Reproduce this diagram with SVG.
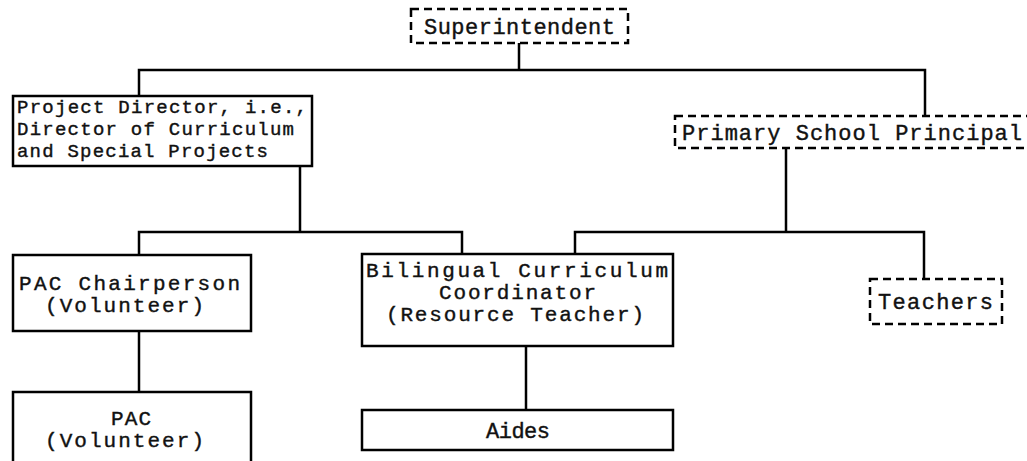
<svg xmlns="http://www.w3.org/2000/svg" width="1027" height="461" viewBox="0 0 1027 461">
  <style>
    .box { fill: #fff; stroke: #000; stroke-width: 2.5; }
    .dash { fill: #fff; stroke: #000; stroke-width: 2.5; stroke-dasharray: 8 5; }
    .wire { fill: none; stroke: #000; stroke-width: 2.5; stroke-linecap: square; }
    text { font-family: "Liberation Mono", "DejaVu Sans Mono", monospace; font-size: 22px; fill: #111; stroke: #111; stroke-width: 0.4; }
    .tight { font-size: 19px; }
    .multi { font-size: 21px; }
  </style>
  <rect width="1027" height="461" fill="#fff"/>

  <g id="connectors">
    <path class="wire" d="M519,43 V70 M139,70 H925 M139,70 V96 M925,70 V116"/>
    <path class="wire" d="M300,166 V232 M139,232 H462 M139,232 V255 M462,232 V254"/>
    <path class="wire" d="M139,331 V392"/>
    <path class="wire" d="M786,148 V232 M575,232 H924 M575,232 V254 M924,232 V279"/>
    <path class="wire" d="M526,346 V410"/>
  </g>

  <g id="superintendent">
    <rect class="dash" x="411" y="9" width="217" height="34"/>
    <text x="424" y="34" textLength="191" lengthAdjust="spacing">Superintendent</text>
  </g>

  <g id="project-director">
    <rect class="box" x="13" y="96" width="299" height="70"/>
    <text class="tight" x="17" y="113" textLength="290" lengthAdjust="spacing">Project Director, i.e.,</text>
    <text class="tight" x="17" y="135" textLength="277" lengthAdjust="spacing">Director of Curriculum</text>
    <text class="tight" x="17" y="157" textLength="251" lengthAdjust="spacing">and Special Projects</text>
  </g>

  <g id="principal">
    <rect class="dash" x="675" y="116" width="360" height="32"/>
    <text x="682" y="140" textLength="340" lengthAdjust="spacing">Primary School Principal</text>
  </g>

  <g id="pac-chairperson">
    <rect class="box" x="13" y="255" width="238" height="76"/>
    <text class="multi" x="19" y="290" textLength="221" lengthAdjust="spacing">PAC Chairperson</text>
    <text class="multi" x="45" y="312" textLength="159" lengthAdjust="spacing">(Volunteer)</text>
  </g>

  <g id="bilingual-coordinator">
    <rect class="box" x="362" y="254" width="311" height="92"/>
    <text class="multi" x="366" y="277" textLength="302" lengthAdjust="spacing">Bilingual Curriculum</text>
    <text class="multi" x="439" y="299" textLength="157" lengthAdjust="spacing">Coordinator</text>
    <text class="multi" x="386" y="321" textLength="258" lengthAdjust="spacing">(Resource Teacher)</text>
  </g>

  <g id="teachers">
    <rect class="dash" x="870" y="279" width="132" height="45"/>
    <text x="878" y="309" textLength="115" lengthAdjust="spacing">Teachers</text>
  </g>

  <g id="pac">
    <rect class="box" x="13" y="392" width="238" height="80"/>
    <text class="multi" x="111" y="425" textLength="40" lengthAdjust="spacing">PAC</text>
    <text class="multi" x="45" y="447" textLength="159" lengthAdjust="spacing">(Volunteer)</text>
  </g>

  <g id="aides">
    <rect class="box" x="362" y="410" width="311" height="40"/>
    <text x="486" y="438" textLength="64" lengthAdjust="spacing">Aides</text>
  </g>
</svg>
